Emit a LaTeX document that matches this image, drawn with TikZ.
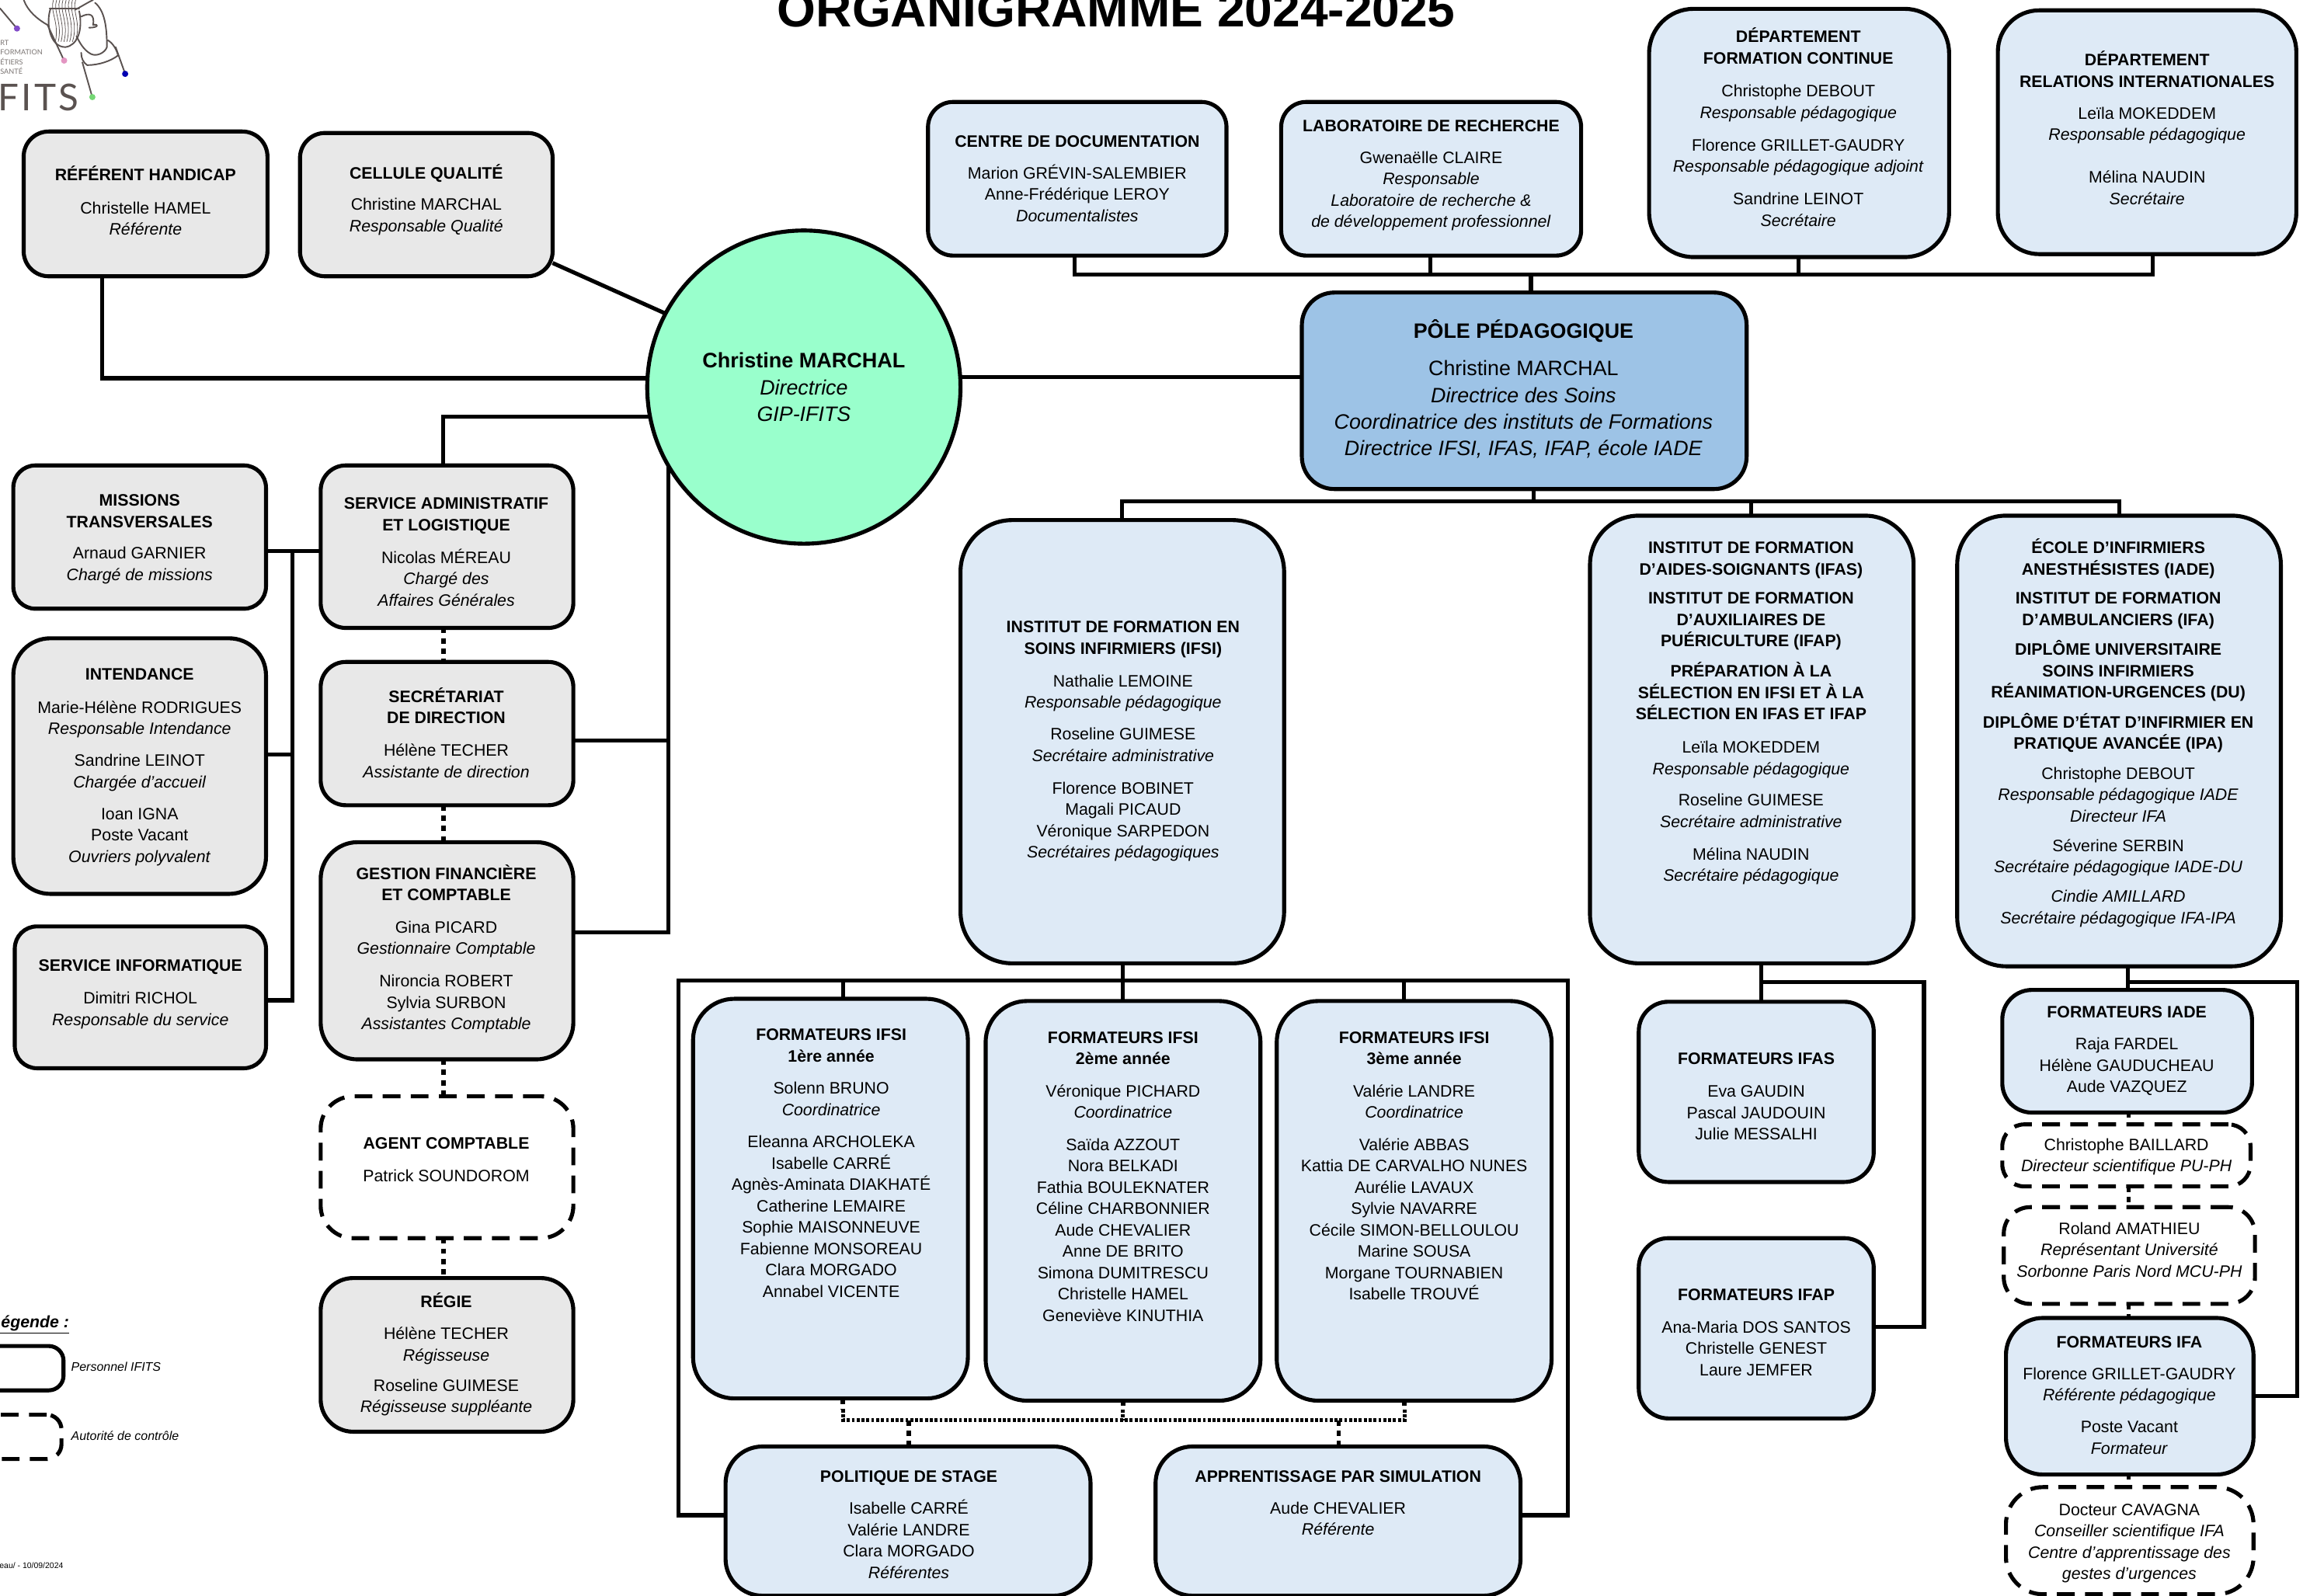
\documentclass[tikz,border=0pt]{standalone}
\usepackage{fontspec}
\setmainfont{Liberation Sans}
\newfontfamily\logofont{Lato}
\newfontfamily\logowide[LetterSpace=7]{Lato}
\definecolor{gfill}{HTML}{E8E8E8}
\definecolor{bfill}{HTML}{DEEAF6}
\definecolor{polefill}{HTML}{9DC3E6}
\definecolor{circfill}{HTML}{99FFCC}
\definecolor{logoink}{HTML}{5A5250}
\tikzset{
 basebox/.style={rectangle,draw=black,line width=2.7pt,inner sep=0pt,outer sep=0pt},
 graybox/.style={basebox,fill=gfill},
 bluebox/.style={basebox,fill=bfill},
 dashbox/.style={basebox,fill=white,dash pattern=on 12pt off 7pt},
 rr/.style={rounded corners=#1 pt},
 txt/.style={align=center,inner sep=0pt,outer sep=0pt,font=\fontsize{11.2}{14.45}\selectfont},
 bigtxt/.style={align=center,inner sep=0pt,outer sep=0pt,font=\fontsize{14.1}{18}\selectfont},
 con/.style={draw=black,line width=2.7pt},
 dotcon/.style={draw=black,line width=3pt,dash pattern=on 3.6pt off 3.4pt},
 finedot/.style={draw=black,line width=2.6pt,dash pattern=on 2pt off 1.3pt},
 logoline/.style={draw=logoink,line width=1pt,line cap=round,line join=round},
}
\newcommand\zT[1]{\strut\textbf{#1}}
\newcommand\zN[1]{\strut #1}
\newcommand\zR[1]{\strut\textit{#1}}
\newcommand\bx[9]{%
 \pgfmathsetmacro\bcx{(#3+#5)/2}\pgfmathsetmacro\bcy{(#4+#6)/2}%
 \pgfmathsetmacro\bw{#5-#3}\pgfmathsetmacro\bh{#6-#4}%
 \node[#2,minimum width=\bw pt,minimum height=\bh pt] (#1) at (\bcx,\bcy) {};%
 \node[txt] (#1t) at (#7,#8) {#9};%
}
\begin{document}
\begin{tikzpicture}[x=1pt,y=-1pt]
\useasboundingbox (0,0) rectangle (1568,1080.2);
\clip (0,0) rectangle (1568,1080.2);
\fill[white] (0,0) rectangle (1568,1080.2);

% logo
\begin{scope}[x=0.268pt,y=-0.1876pt]
 \draw[logoline] (0,30) -- (43,103);
 \draw[logoline] (60,0) .. controls (70,40) and (95,70) .. (120,90);
 \draw[logoline] (120,90) -- (162,219);
 \draw[logoline] (128,30) .. controls (115,80) and (125,170) .. (165,170) .. controls (195,165) and (210,110) .. (200,40);
 \foreach \dx in {0,8,...,56}{\draw[logoline,line width=.4pt] (135+\dx,0) .. controls (125+\dx,40) and (150+\dx,80) .. (140+\dx*.9,150);}
 \draw[logoline] (125,30) -- (200,30);
 \draw[logoline] (190,35) .. controls (210,20) and (220,10) .. (235,0);
 \draw[logoline] (240,10) .. controls (265,40) and (270,100) .. (270,170) .. controls (265,190) and (245,205) .. (230,195) .. controls (210,180) and (200,150) .. (193,130);
 \draw[logoline] (205,60) .. controls (225,45) and (240,50) .. (235,90) .. controls (250,85) and (250,100) .. (225,100);
 \draw[logoline] (205,190) .. controls (205,210) and (210,225) .. (220,235) .. controls (250,235) and (280,220) .. (298,200) .. controls (295,180) and (285,155) .. (272,145);
 \draw[logoline] (208,225) -- (233,350);
 \draw[logoline] (292,170) -- (316,266);
\end{scope}
\fill[blue!40!violet!70!white] (11.5,19.3) circle (2.1);
\fill[magenta!40!white!90!black] (43.4,41) circle (2.1);
\fill[blue!70!black] (84.7,50) circle (2.1);
\fill[green!55!gray!70!white] (62.5,65.7) circle (2.1);
\node[anchor=west,inner sep=0,font=\logofont\fontsize{4.8}{6}\selectfont,text=logoink!80] (lg1) at (0,29) {RT};
\node[anchor=west,inner sep=0,font=\logofont\fontsize{4.8}{6}\selectfont,text=logoink!80] (lg2) at (0,35.3) {FORMATION};
\node[anchor=west,inner sep=0,font=\logofont\fontsize{4.8}{6}\selectfont,text=logoink!80] (lg3) at (0,41.6) {ÉTIERS};
\node[anchor=west,inner sep=0,font=\logofont\fontsize{4.8}{6}\selectfont,text=logoink!80] (lg4) at (0,48) {SANTÉ};
\node[anchor=base east,inner sep=0,font=\logowide\fontsize{25}{28}\selectfont,text=logoink] (lgname) at (53.5,75) {IFITS};

% title
\node[anchor=base,inner sep=0,font=\bfseries\fontsize{33.7}{38}\selectfont] (title) at (755.5,18) {ORGANIGRAMME 2024-2025};

% circle and pole
\node[circle,draw=black,line width=2.7pt,fill=circfill,minimum size=212pt,inner sep=0,outer sep=0] (circ) at (544,262) {};
\node[bigtxt] (circt) at (544,263.5) {\strut\fontsize{14.2}{18}\selectfont\textbf{Christine MARCHAL}\\\zR{Directrice}\\\zR{GIP-IFITS}};
\node[basebox,fill=polefill,rr=22,minimum width=301pt,minimum height=133pt] (pole) at (1031.5,264.5) {};
\node[bigtxt] (polet) at (1031,265) {\zT{PÔLE PÉDAGOGIQUE}\\[7.5pt]\zN{Christine MARCHAL}\\\zR{Directrice des Soins}\\\zR{Coordinatrice des instituts de Formations}\\\zR{Directrice IFSI, IFAS, IFAP, école IADE}};

% left column
\bx{hand}{graybox,rr=17}{16}{89}{181}{187}{98.5}{137.8}{\zT{RÉFÉRENT HANDICAP}\\[8pt]\zN{Christelle HAMEL}\\\zR{Référente}}
\bx{qual}{graybox,rr=17}{203}{90}{374}{187}{288.5}{136}{\zT{CELLULE QUALITÉ}\\[7pt]\zN{Christine MARCHAL}\\\zR{Responsable Qualité}}
\bx{miss}{graybox,rr=15}{9}{315}{180}{412}{94.5}{364.8}{\zT{MISSIONS}\\\zT{TRANSVERSALES}\\[7pt]\zN{Arnaud GARNIER}\\\zR{Chargé de missions}}
\bx{inten}{graybox,rr=25}{9}{432}{180}{605}{94.5}{519}{\zT{INTENDANCE}\\[8pt]\zN{Marie-Hélène RODRIGUES}\\\zR{Responsable Intendance}\\[7pt]\zN{Sandrine LEINOT}\\\zR{Chargée d’accueil}\\[7pt]\zN{Ioan IGNA}\\\zN{Poste Vacant}\\\zR{Ouvriers polyvalent}}
\bx{info}{graybox,rr=15}{10}{627}{180}{723}{95}{672.8}{\zT{SERVICE INFORMATIQUE}\\[7.6pt]\zN{Dimitri RICHOL}\\\zR{Responsable du service}}
\bx{sadm}{graybox,rr=17}{217}{315}{388}{425}{302}{374.6}{\zT{SERVICE ADMINISTRATIF}\\\zT{ET LOGISTIQUE}\\[7.6pt]\zN{Nicolas MÉREAU}\\\zR{Chargé des}\\\zR{Affaires Générales}}
\bx{secr}{graybox,rr=17}{217}{448}{388}{545}{302}{498}{\zT{SECRÉTARIAT}\\\zT{DE DIRECTION}\\[7.6pt]\zN{Hélène TECHER}\\\zR{Assistante de direction}}
\bx{gest}{graybox,rr=25}{217}{570}{388}{717}{302}{643.1}{\zT{GESTION FINANCIÈRE}\\\zT{ET COMPTABLE}\\[7.6pt]\zN{Gina PICARD}\\\zR{Gestionnaire Comptable}\\[7.6pt]\zN{Nironcia ROBERT}\\\zN{Sylvia SURBON}\\\zR{Assistantes Comptable}}
\bx{agent}{dashbox,rr=22}{217}{742}{388}{838}{302}{786}{\zT{AGENT COMPTABLE}\\[7.6pt]\zN{Patrick SOUNDOROM}}
\bx{regie}{graybox,rr=22}{217}{865}{388}{969}{302}{917.6}{\zT{RÉGIE}\\[7pt]\zN{Hélène TECHER}\\\zR{Régisseuse}\\[6pt]\zN{Roseline GUIMESE}\\\zR{Régisseuse suppléante}}

% top row
\bx{cdi}{bluebox,rr=17}{628}{69}{830}{173}{729}{122}{\zT{CENTRE DE DOCUMENTATION}\\[7pt]\zN{Marion GRÉVIN-SALEMBIER}\\\zN{Anne-Frédérique LEROY}\\\zR{Documentalistes}}
\bx{labo}{bluebox,rr=17}{867}{69}{1070}{173}{968.5}{118.6}{\zT{LABORATOIRE DE RECHERCHE}\\[7pt]\zN{Gwenaëlle CLAIRE}\\\zR{Responsable}\\\zR{Laboratoire de recherche \&}\\\zR{de développement professionnel}}
\bx{fc}{bluebox,rr=30}{1116}{6}{1319}{174}{1217}{88}{\zT{DÉPARTEMENT}\\\zT{FORMATION CONTINUE}\\[8pt]\zN{Christophe DEBOUT}\\\zR{Responsable pédagogique}\\[7.6pt]\zN{Florence GRILLET-GAUDRY}\\\zR{Responsable pédagogique adjoint}\\[7.6pt]\zN{Sandrine LEINOT}\\\zR{Secrétaire}}
\bx{ri}{bluebox,rr=28}{1352}{7}{1554}{172}{1453}{88.6}{\zT{DÉPARTEMENT}\\\zT{RELATIONS INTERNATIONALES}\\[7pt]\zN{Leïla MOKEDDEM}\\\zR{Responsable pédagogique}\\[14.6pt]\zN{Mélina NAUDIN}\\\zR{Secrétaire}}

% institutes
\bx{ifsi}{bluebox,rr=35}{650}{352}{869}{652}{760}{501.6}{\zT{INSTITUT DE FORMATION EN}\\\zT{SOINS INFIRMIERS (IFSI)}\\[7.6pt]\zN{Nathalie LEMOINE}\\\zR{Responsable pédagogique}\\[7pt]\zN{Roseline GUIMESE}\\\zR{Secrétaire administrative}\\[7.6pt]\zN{Florence BOBINET}\\\zN{Magali PICAUD}\\\zN{Véronique SARPEDON}\\\zR{Secrétaires pédagogiques}}
\bx{ifas}{bluebox,rr=33}{1076}{349}{1295}{652}{1185}{482.7}{\zT{INSTITUT DE FORMATION}\\\zT{D’AIDES-SOIGNANTS (IFAS)}\\[5.3pt]\zT{INSTITUT DE FORMATION}\\\zT{D’AUXILIAIRES DE}\\\zT{PUÉRICULTURE (IFAP)}\\[6pt]\zT{PRÉPARATION À LA}\\\zT{SÉLECTION EN IFSI ET À LA}\\\zT{SÉLECTION EN IFAS ET IFAP}\\[8pt]\zN{Leïla MOKEDDEM}\\\zR{Responsable pédagogique}\\[7pt]\zN{Roseline GUIMESE}\\\zR{Secrétaire administrative}\\[7.6pt]\zN{Mélina NAUDIN}\\\zR{Secrétaire pédagogique}}
\bx{iade}{bluebox,rr=33}{1324.5}{349}{1543.5}{654}{1433.5}{497}{\zT{ÉCOLE D’INFIRMIERS}\\\zT{ANESTHÉSISTES (IADE)}\\[5.3pt]\zT{INSTITUT DE FORMATION}\\\zT{D’AMBULANCIERS (IFA)}\\[5.7pt]\zT{DIPLÔME UNIVERSITAIRE}\\\zT{SOINS INFIRMIERS}\\\zT{RÉANIMATION-URGENCES (DU)}\\[6pt]\zT{DIPLÔME D’ÉTAT D’INFIRMIER EN}\\\zT{PRATIQUE AVANCÉE (IPA)}\\[5.8pt]\zN{Christophe DEBOUT}\\\zR{Responsable pédagogique IADE}\\\zR{Directeur IFA}\\[5.4pt]\zN{Séverine SERBIN}\\\zR{Secrétaire pédagogique IADE-DU}\\[5.6pt]\zR{Cindie AMILLARD}\\\zR{Secrétaire pédagogique IFA-IPA}}

% formateurs IFSI
\bx{fa}{bluebox,rr=28}{469}{676}{655}{946.5}{562.5}{788.2}{\zT{FORMATEURS IFSI}\\\zT{1ère année}\\[7.2pt]\zN{Solenn BRUNO}\\\zR{Coordinatrice}\\[7.4pt]\zN{Eleanna ARCHOLEKA}\\\zN{Isabelle CARRÉ}\\\zN{Agnès-Aminata DIAKHATÉ}\\\zN{Catherine LEMAIRE}\\\zN{Sophie MAISONNEUVE}\\\zN{Fabienne MONSOREAU}\\\zN{Clara MORGADO}\\\zN{Annabel VICENTE}}
\bx{fb}{bluebox,rr=28}{667}{677.5}{853}{948}{760}{797.3}{\zT{FORMATEURS IFSI}\\\zT{2ème année}\\[7.2pt]\zN{Véronique PICHARD}\\\zR{Coordinatrice}\\[7.4pt]\zN{Saïda AZZOUT}\\\zN{Nora BELKADI}\\\zN{Fathia BOULEKNATER}\\\zN{Céline CHARBONNIER}\\\zN{Aude CHEVALIER}\\\zN{Anne DE BRITO}\\\zN{Simona DUMITRESCU}\\\zN{Christelle HAMEL}\\\zN{Geneviève KINUTHIA}}
\bx{fc3}{bluebox,rr=28}{864}{677.5}{1050}{948}{957}{790}{\zT{FORMATEURS IFSI}\\\zT{3ème année}\\[7.2pt]\zN{Valérie LANDRE}\\\zR{Coordinatrice}\\[7.4pt]\zN{Valérie ABBAS}\\\zN{Kattia DE CARVALHO NUNES}\\\zN{Aurélie LAVAUX}\\\zN{Sylvie NAVARRE}\\\zN{Cécile SIMON-BELLOULOU}\\\zN{Marine SOUSA}\\\zN{Morgane TOURNABIEN}\\\zN{Isabelle TROUVÉ}}
\bx{pol}{bluebox,rr=25}{491}{979}{738}{1080}{615}{1032.9}{\zT{POLITIQUE DE STAGE}\\[7.2pt]\zN{Isabelle CARRÉ}\\\zN{Valérie LANDRE}\\\zN{Clara MORGADO}\\\zR{Référentes}}
\bx{sim}{bluebox,rr=25}{782}{979}{1029}{1080}{905.5}{1018.2}{\zT{APPRENTISSAGE PAR SIMULATION}\\[7.2pt]\zN{Aude CHEVALIER}\\\zR{Référente}}

% formateurs IFAS IFAP
\bx{fifas}{bluebox,rr=20}{1109}{678}{1268}{800}{1188.5}{743.1}{\zT{FORMATEURS IFAS}\\[7.6pt]\zN{Eva GAUDIN}\\\zN{Pascal JAUDOUIN}\\\zN{Julie MESSALHI}}
\bx{fifap}{bluebox,rr=20}{1109}{838}{1268}{960}{1188.5}{902.8}{\zT{FORMATEURS IFAP}\\[7.6pt]\zN{Ana-Maria DOS SANTOS}\\\zN{Christelle GENEST}\\\zN{Laure JEMFER}}

% right column
\bx{fiade}{bluebox,rr=20}{1355}{670}{1524}{753}{1439.3}{711.3}{\zT{FORMATEURS IADE}\\[7pt]\zN{Raja FARDEL}\\\zN{Hélène GAUDUCHEAU}\\\zN{Aude VAZQUEZ}}
\bx{bail}{dashbox,rr=15}{1355}{761}{1523}{803}{1439}{783}{\zN{Christophe BAILLARD}\\\zR{Directeur scientifique PU-PH}}
\bx{amat}{dashbox,rr=18}{1356}{817}{1526}{882.5}{1441}{847}{\zN{Roland AMATHIEU}\\\zR{Représentant Université}\\\zR{Sorbonne Paris Nord MCU-PH}}
\bx{fifa}{bluebox,rr=25}{1357.5}{892}{1525}{998}{1441}{945.3}{\zT{FORMATEURS IFA}\\[7pt]\zN{Florence GRILLET-GAUDRY}\\\zR{Référente pédagogique}\\[7pt]\zN{Poste Vacant}\\\zR{Formateur}}
\bx{cav}{dashbox,rr=25}{1357.5}{1006.5}{1525}{1079}{1441}{1044.4}{\zN{Docteur CAVAGNA}\\\zR{Conseiller scientifique IFA}\\\zR{Centre d’apprentissage des}\\\zR{gestes d’urgences}}

% legend
\node[basebox,rr=10,minimum width=63pt,minimum height=30pt] (legA) at (11.5,926) {};
\node[dashbox,rr=10,minimum width=62pt,minimum height=30pt] (legB) at (10.6,972.5) {};
\node[anchor=base east,inner sep=0,font=\bfseries\itshape\fontsize{11.2}{14}\selectfont] (legt) at (47,898.5) {\underline{Légende :}};
\node[anchor=west,inner sep=0,font=\itshape\fontsize{8.4}{10}\selectfont] (leg1) at (48,925) {Personnel IFITS};
\node[anchor=west,inner sep=0,font=\itshape\fontsize{8.4}{10}\selectfont] (leg2) at (48,972) {Autorité de contrôle};
\node[anchor=east,inner sep=0,font=\fontsize{5.5}{7}\selectfont] (foot) at (43,1059.5) {eau/ - 10/09/2024};

% connectors
\draw[con] (69,0 |- hand.south) |- (circ.west |- 0,256);
\draw[con] (qual.east |- 0,178) -- (circ.152.5);
\draw[con] (circ.east |- 0,255) -- (pole.west |- 0,255);
\draw[con] (300,0 |- sadm.north) |- (circ.191.4);
\draw[con] (secr.east |- 0,501) -| (circ.210);
\draw[con] (gest.east |- 0,631) -| (circ.210);
\draw[con] (miss.east |- 0,373) -- (sadm.west |- 0,373);
\draw[con] (197.9,373) |- (info.east |- 0,677);
\draw[con] (inten.east |- 0,510.7) -- (197.9,510.7);
\draw[dotcon] (300,0 |- sadm.south) -- (300,0 |- secr.north);
\draw[dotcon] (300,0 |- secr.south) -- (300,0 |- gest.north);
\draw[dotcon] (300,0 |- gest.south) -- (300,0 |- agent.north);
\draw[dotcon] (300,0 |- agent.south) -- (300,0 |- regie.north);

\draw[con] (727,0 |- cdi.south) |- (1457,186) -- (1457,0 |- ri.south);
\draw[con] (968,0 |- labo.south) -- (968,186);
\draw[con] (1217,0 |- fc.south) -- (1217,186);
\draw[con] (1036,186) -- (1036,0 |- pole.north);

\draw[con] (1038,0 |- pole.south) -- (1038,339.5);
\draw[con] (759.5,0 |- ifsi.north) |- (1434,339.5) -- (1434,0 |- iade.north);
\draw[con] (1185,339.5) -- (1185,0 |- ifas.north);

\draw[con] (760,0 |- ifsi.south) -- (760,0 |- fb.north);
\draw[con] (570.5,0 |- fa.north) -- (570.5,663.7);
\draw[con] (950,0 |- fc3.north) -- (950,663.7);
\draw[con] (pol.west |- 0,1025.5) -| (459,663.7) -- (1061,663.7) |- (sim.east |- 0,1025.5);

\draw[con] (1192,0 |- ifas.south) -- (1192,0 |- fifas.north);
\draw[con] (1192,664.5) -| (1302,898) -- (fifap.east |- 0,898);
\draw[con] (1440,0 |- iade.south) -- (1440,0 |- fiade.north);
\draw[con] (1440,664.5) -| (1554.5,945) -- (fifa.east |- 0,945);

\draw[dotcon] (570.5,0 |- fa.south) -- (570.5,954);
\draw[dotcon] (760,0 |- fb.south) -- (760,954);
\draw[dotcon] (950.5,0 |- fc3.south) -- (950.5,954);
\draw[finedot] (570.5,954) |- (950.5,961.3) -- (950.5,954);
\draw[finedot] (760,954) -- (760,961.3);
\draw[dotcon] (615,961.3) -- (615,0 |- pol.north);
\draw[dotcon] (906,961.3) -- (906,0 |- sim.north);

\draw[dotcon] (1440.5,0 |- fiade.south) -- (1440.5,0 |- bail.north);
\draw[dotcon] (1440.5,0 |- bail.south) -- (1440.5,0 |- amat.north);
\draw[dotcon] (1440.5,0 |- amat.south) -- (1440.5,0 |- fifa.north);
\draw[dotcon] (1440.5,0 |- fifa.south) -- (1440.5,0 |- cav.north);
\end{tikzpicture}
\end{document}
